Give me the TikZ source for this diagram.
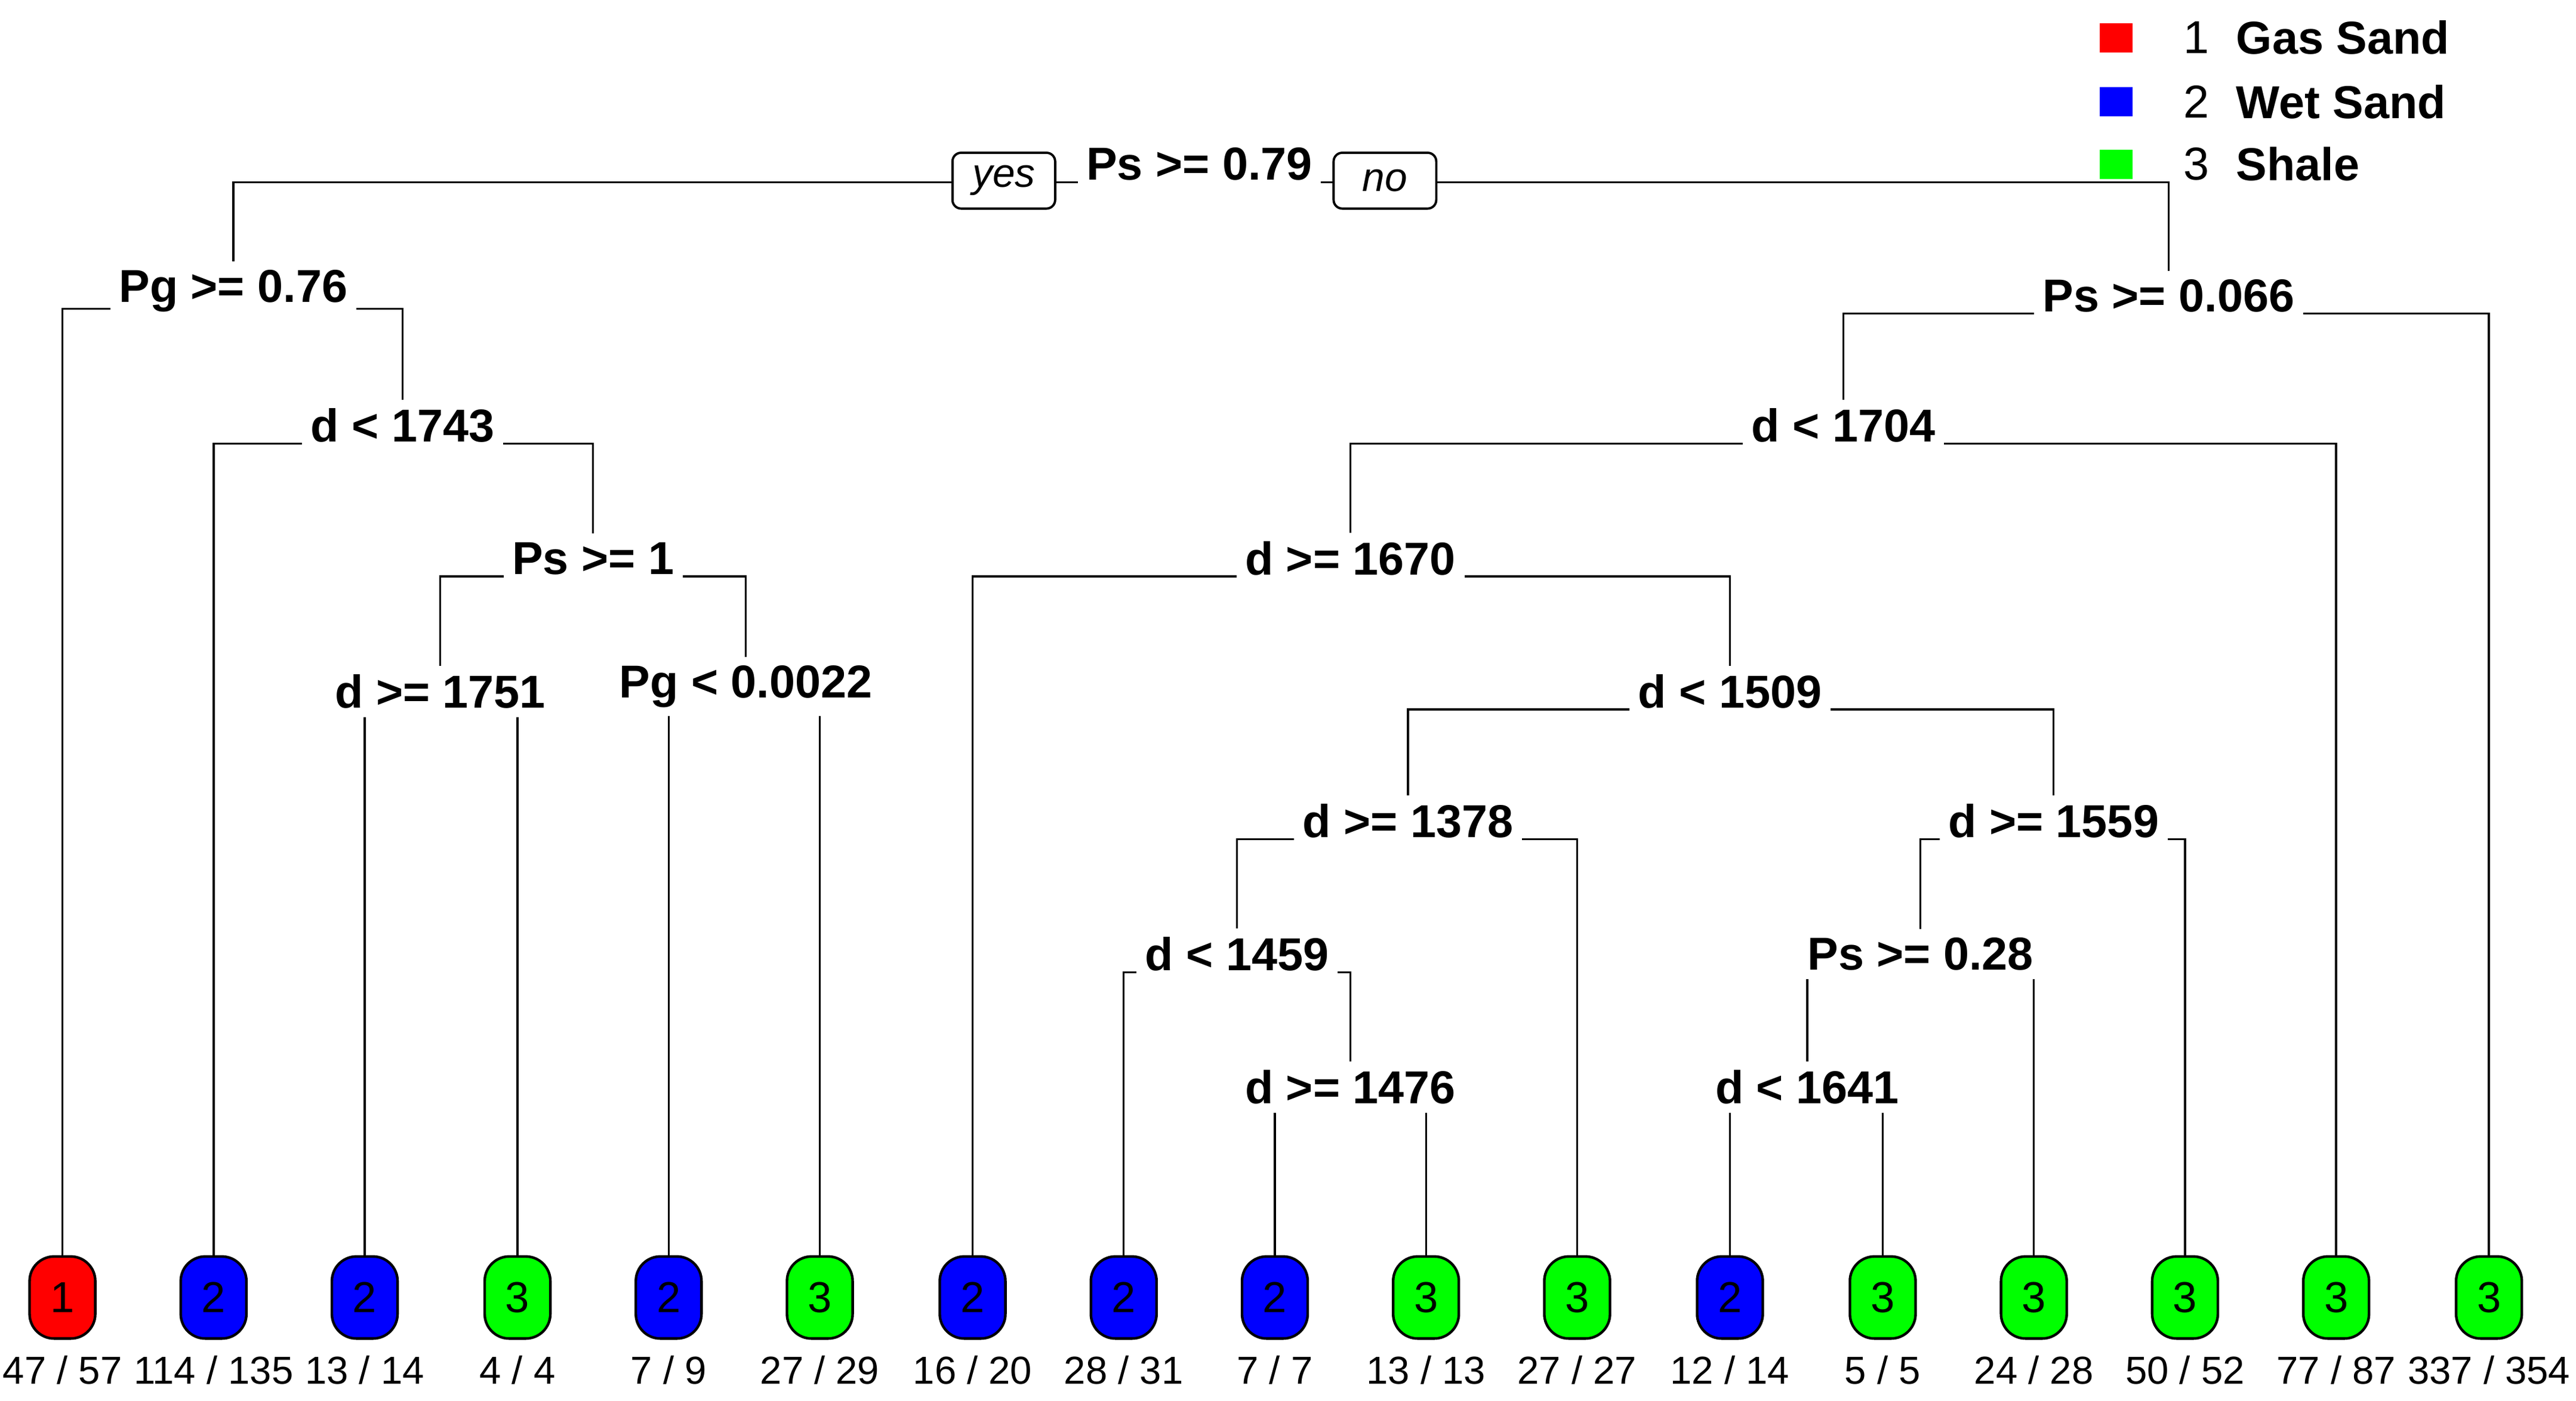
\documentclass[tikz,border=0pt]{standalone}
\usepackage{fontspec}
\setmainfont{Liberation Sans}
\begin{document}
\begin{tikzpicture}[x=0.02cm,y=-0.02cm,
  split/.style={fill=white,inner sep=3pt,font=\fontsize{16}{18}\selectfont\bfseries},
  leaf/.style={draw,line width=0.9pt,rounded corners=0.3cm,minimum width=0.8cm,minimum height=1.0cm,inner sep=0pt,font=\fontsize{15}{17}\selectfont},
  cnt/.style={font=\fontsize{13.5}{15}\selectfont},
  yn/.style={draw,fill=white,rounded corners=3pt,line width=0.8pt,minimum width=1.25cm,minimum height=0.68cm,inner sep=2pt,font=\fontsize{14}{16}\selectfont\itshape},
  edge/.style={line width=0.7pt}]
\useasboundingbox (0,0) rectangle (1568,853);
\definecolor{cR}{RGB}{255,0,0}\definecolor{cB}{RGB}{0,0,255}\definecolor{cG}{RGB}{0,255,0}
% leaves
\foreach \n/\x/\c/\k/\t in {1/38/cR/1/{47 / 57},2/130/cB/2/{114 / 135},3/222/cB/2/{13 / 14},4/315/cG/3/{4 / 4},5/407/cB/2/{7 / 9},6/499/cG/3/{27 / 29},7/592/cB/2/{16 / 20},8/684/cB/2/{28 / 31},9/776/cB/2/{7 / 7},10/868/cG/3/{13 / 13},11/960/cG/3/{27 / 27},12/1053/cB/2/{12 / 14},13/1146/cG/3/{5 / 5},14/1238/cG/3/{24 / 28},15/1330/cG/3/{50 / 52},16/1422/cG/3/{77 / 87},17/1515/cG/3/{337 / 354}}{
  \node[leaf,fill=\c] (L\n) at (\x,790) {\k};
  \node[cnt] (C\n) at (\x,834) {\t};
}
\coordinate (root) at (730,100);
\coordinate (a) at (142,177);
\coordinate (b) at (245,259);
\coordinate (c) at (361,340);
\coordinate (d) at (268,421);
\coordinate (e) at (454,418);
\coordinate (f) at (1320,180);
\coordinate (g) at (1122,259);
\coordinate (h) at (822,340);
\coordinate (i) at (1053,421);
\coordinate (j) at (857,500);
\coordinate (k) at (753,581);
\coordinate (l) at (822,662);
\coordinate (m) at (1250,500);
\coordinate (n) at (1169,581);
\coordinate (o) at (1100,662);
\foreach \p/\l/\r in {root/a/f,a/L1/b,b/L2/c,c/d/e,d/L3/L4,e/L5/L6,f/g/L17,g/h/L16,h/L7/i,i/j/m,j/k/L11,k/L8/l,l/L9/L10,m/n/L15,n/o/L14,o/L12/L13}{
  \draw[edge] (\l.north) |- ([yshift=-0.22cm]\p) -| (\r.north);
}
\node[split] (Nroot) at (root) {Ps >= 0.79};
\node[split] (Na) at (a) {Pg >= 0.76};
\node[split] (Nb) at (b) {d < 1743};
\node[split] (Nc) at (c) {Ps >= 1};
\node[split] (Nd) at (d) {d >= 1751};
\node[split] (Ne) at (e) {Pg < 0.0022};
\node[split] (Nf) at (f) {Ps >= 0.066};
\node[split] (Ng) at (g) {d < 1704};
\node[split] (Nh) at (h) {d >= 1670};
\node[split] (Ni) at (i) {d < 1509};
\node[split] (Nj) at (j) {d >= 1378};
\node[split] (Nk) at (k) {d < 1459};
\node[split] (Nl) at (l) {d >= 1476};
\node[split] (Nm) at (m) {d >= 1559};
\node[split] (Nn) at (n) {Ps >= 0.28};
\node[split] (No) at (o) {d < 1641};
\node[yn] (yes) at (611,110) {yes};
\node[yn] (no) at (843,110) {no};
\foreach \y/\c/\k/\t in {23/cR/1/Gas Sand,62/cB/2/Wet Sand,100/cG/3/Shale}{
  \fill[\c] (1278,\y-9) rectangle (1298,\y+9);
  \node[font=\fontsize{16}{18}\selectfont] at (1337,\y) {\k};
  \node[anchor=west,font=\fontsize{16}{18}\selectfont\bfseries] at (1355,\y) {\t};
}
\end{tikzpicture}
\end{document}
